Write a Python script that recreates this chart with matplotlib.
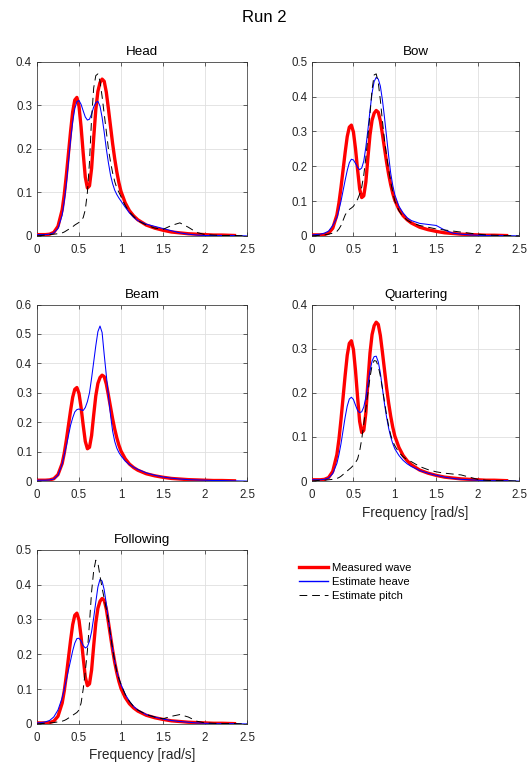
import numpy as np
import matplotlib.pyplot as plt

plt.rcParams['font.family'] = ['Liberation Sans', 'DejaVu Sans']

#----------------------------------
# Datos
#----------------------------------

freq = [0, 0.05, 0.1, 0.15, 0.2, 0.25, 0.3,
        0.325, 0.35, 0.375, 0.4, 0.425, 0.45, 0.475, 0.5, 0.525, 0.55,
        0.575, 0.6, 0.625, 0.65, 0.675, 0.7, 0.725, 0.75, 0.775, 0.8,
        0.825, 0.85, 0.875, 0.9, 0.925, 0.95, 0.975, 1.0,
        1.05, 1.1, 1.15, 1.2, 1.3, 1.4, 1.5, 1.6, 1.7, 1.8, 1.9, 2.0,
        2.1, 2.2, 2.35, 2.5]

# ola medida (igual en todos los rumbos)
measured = [0.003, 0.003, 0.003, 0.004, 0.008, 0.022, 0.06,
            0.095, 0.14, 0.19, 0.24, 0.285, 0.312, 0.318, 0.298, 0.25, 0.19,
            0.135, 0.11, 0.115, 0.155, 0.225, 0.29, 0.332, 0.352, 0.36, 0.355,
            0.33, 0.292, 0.252, 0.212, 0.177, 0.147, 0.122, 0.102,
            0.076, 0.058, 0.046, 0.037, 0.025, 0.018, 0.013, 0.009, 0.007, 0.005, 0.004, 0.003,
            0.002, 0.002, 0.001, np.nan]

head_heave = [0.003, 0.003, 0.003, 0.004, 0.007, 0.017, 0.048,
              0.08, 0.12, 0.17, 0.22, 0.262, 0.292, 0.308, 0.311, 0.302, 0.287,
              0.273, 0.266, 0.268, 0.28, 0.296, 0.306, 0.309, 0.298, 0.272, 0.238,
              0.2, 0.168, 0.14, 0.12, 0.105, 0.095, 0.087, 0.08,
              0.066, 0.053, 0.043, 0.035, 0.027, 0.022, 0.017, 0.012, 0.007, 0.004, 0.002, 0.001,
              0.001, 0.001, 0.001, 0.0]

head_pitch = [0.0, 0.001, 0.002, 0.003, 0.004, 0.005, 0.007,
              0.009, 0.012, 0.015, 0.018, 0.021, 0.025, 0.028, 0.031, 0.035, 0.042,
              0.06, 0.1, 0.17, 0.27, 0.34, 0.368, 0.372, 0.355, 0.32, 0.28,
              0.24, 0.2, 0.17, 0.145, 0.125, 0.11, 0.1, 0.09,
              0.07, 0.055, 0.045, 0.035, 0.025, 0.018, 0.015, 0.024, 0.03, 0.02, 0.008, 0.003,
              0.002, 0.001, 0.001, 0.0]

bow_heave = [0.003, 0.004, 0.005, 0.008, 0.014, 0.03, 0.052,
             0.075, 0.1, 0.13, 0.16, 0.188, 0.21, 0.22, 0.218, 0.208, 0.197,
             0.19, 0.195, 0.215, 0.255, 0.305, 0.36, 0.41, 0.443, 0.455, 0.45,
             0.43, 0.39, 0.34, 0.285, 0.23, 0.18, 0.145, 0.118,
             0.085, 0.066, 0.052, 0.044, 0.036, 0.033, 0.03, 0.017, 0.008, 0.005, 0.003, 0.002,
             0.001, 0.001, 0.001, 0.0]

bow_pitch = [0.0, 0.001, 0.002, 0.003, 0.005, 0.008, 0.013,
             0.02, 0.03, 0.045, 0.06, 0.07, 0.076, 0.08, 0.085, 0.095, 0.105,
             0.12, 0.14, 0.175, 0.225, 0.285, 0.35, 0.42, 0.462, 0.465, 0.44,
             0.39, 0.33, 0.275, 0.23, 0.19, 0.155, 0.125, 0.1,
             0.072, 0.055, 0.045, 0.038, 0.03, 0.025, 0.02, 0.017, 0.014, 0.011, 0.008, 0.005,
             0.003, 0.002, 0.001, 0.0]

beam_heave = [0.003, 0.003, 0.003, 0.004, 0.007, 0.02, 0.058,
              0.09, 0.12, 0.155, 0.19, 0.215, 0.235, 0.243, 0.245, 0.242, 0.24,
              0.25, 0.27, 0.3, 0.35, 0.405, 0.46, 0.508, 0.527, 0.505, 0.43,
              0.36, 0.29, 0.225, 0.17, 0.135, 0.112, 0.097, 0.086,
              0.068, 0.056, 0.047, 0.04, 0.028, 0.02, 0.014, 0.01, 0.007, 0.005, 0.004, 0.003,
              0.002, 0.002, 0.001, 0.0]

beam_pitch = [0.001, 0.001, 0.001, 0.001, 0.001, 0.001, 0.001,
              0.001, 0.001, 0.001, 0.001, 0.001, 0.001, 0.001, 0.001, 0.001, 0.001,
              0.001, 0.001, 0.001, 0.001, 0.001, 0.001, 0.001, 0.001, 0.001, 0.001,
              0.001, 0.001, 0.001, 0.001, 0.001, 0.001, 0.001, 0.001,
              0.001, 0.001, 0.001, 0.001, 0.001, 0.001, 0.001, 0.001, 0.001, 0.001, 0.001, 0.001,
              0.001, 0.001, 0.001, 0.001]

quart_heave = [0.003, 0.003, 0.003, 0.004, 0.007, 0.017, 0.04,
               0.06, 0.085, 0.115, 0.145, 0.17, 0.186, 0.19, 0.185, 0.172, 0.16,
               0.155, 0.157, 0.168, 0.19, 0.22, 0.25, 0.272, 0.282, 0.283, 0.27,
               0.245, 0.21, 0.175, 0.145, 0.12, 0.1, 0.085, 0.073,
               0.058, 0.047, 0.039, 0.033, 0.024, 0.018, 0.013, 0.009, 0.006, 0.004, 0.003, 0.002,
               0.001, 0.001, 0.001, 0.0]

quart_pitch = [0.0, 0.001, 0.002, 0.002, 0.003, 0.004, 0.006,
               0.008, 0.011, 0.015, 0.019, 0.023, 0.027, 0.031, 0.036, 0.042, 0.05,
               0.068, 0.095, 0.13, 0.165, 0.2, 0.235, 0.262, 0.273, 0.272, 0.26,
               0.238, 0.21, 0.18, 0.15, 0.125, 0.105, 0.09, 0.08,
               0.065, 0.055, 0.048, 0.044, 0.033, 0.026, 0.021, 0.018, 0.016, 0.014, 0.009, 0.004,
               0.002, 0.001, 0.001, 0.0]

foll_heave = [0.003, 0.004, 0.006, 0.01, 0.02, 0.04, 0.075,
              0.1, 0.127, 0.155, 0.182, 0.21, 0.232, 0.245, 0.246, 0.238, 0.225,
              0.218, 0.222, 0.238, 0.265, 0.305, 0.35, 0.393, 0.415, 0.41, 0.385,
              0.345, 0.3, 0.255, 0.215, 0.18, 0.15, 0.13, 0.113,
              0.085, 0.065, 0.05, 0.04, 0.027, 0.02, 0.014, 0.01, 0.007, 0.005, 0.003, 0.002,
              0.001, 0.001, 0.001, 0.0]

foll_pitch = [0.0, 0.001, 0.002, 0.003, 0.004, 0.006, 0.008,
              0.01, 0.013, 0.017, 0.021, 0.025, 0.029, 0.033, 0.04, 0.06, 0.1,
              0.15, 0.21, 0.29, 0.38, 0.44, 0.47, 0.462, 0.425, 0.39, 0.36,
              0.33, 0.295, 0.255, 0.215, 0.18, 0.15, 0.13, 0.113,
              0.085, 0.065, 0.05, 0.04, 0.027, 0.02, 0.015, 0.022, 0.027, 0.02, 0.008, 0.003,
              0.002, 0.001, 0.001, 0.0]

headings = ["Head", "Bow", "Beam", "Quartering", "Following"]
heave = [head_heave, bow_heave, beam_heave, quart_heave, foll_heave]
pitch = [head_pitch, bow_pitch, beam_pitch, quart_pitch, foll_pitch]
ymax = [0.4, 0.5, 0.6, 0.4, 0.5]

#----------------------------------
# Figura
#----------------------------------

fig = plt.figure(figsize=(5.28, 7.71), dpi=100)

# [left, bottom, width, height]
pos = [
    [0.070, 0.694, 0.398, 0.226],
    [0.591, 0.694, 0.392, 0.226],
    [0.070, 0.376, 0.398, 0.229],
    [0.591, 0.376, 0.392, 0.229],
    [0.070, 0.061, 0.398, 0.226],
]

fc = '#262626'

for i in range(5):
    ax = fig.add_axes(pos[i])
    l1, = ax.plot(freq, measured, color='red', lw=2.4, label='Measured wave', zorder=3)
    l2, = ax.plot(freq, heave[i], color='blue', lw=0.75, label='Estimate heave', zorder=4)
    l3, = ax.plot(freq, pitch[i], color='black', lw=0.7, ls=(0, (8, 5)),
                  label='Estimate pitch', zorder=5)
    ax.set_xlim(0, 2.5)
    ax.set_ylim(0, ymax[i])
    ax.set_xticks([0, 0.5, 1, 1.5, 2, 2.5])
    ax.set_xticklabels(['0', '0.5', '1', '1.5', '2', '2.5'])
    ax.set_yticks(np.arange(0, ymax[i] + 0.01, 0.1))
    ax.set_yticklabels(['0'] + ['%.1f' % v for v in np.arange(0.1, ymax[i] + 0.01, 0.1)])
    ax.grid(True, color='#dfdfdf', lw=0.6)
    ax.set_axisbelow(True)
    ax.tick_params(direction='in', length=3, width=0.5, top=True, right=True,
                   labelsize=8.3, colors=fc)
    ax.tick_params(axis='x', pad=6)
    ax.tick_params(axis='y', pad=3.5)
    for s in ax.spines.values():
        s.set_color(fc)
        s.set_linewidth(0.5)
    ax.set_title(headings[i], fontsize=9.6, color='black', pad=5)
    if i >= 3:
        ax.set_xlabel('Frequency [rad/s]', fontsize=9.8, color=fc, labelpad=3)

leg = fig.legend(handles=[l1, l2, l3], loc='upper left', bbox_to_anchor=(0.548, 0.283),
                 frameon=False, fontsize=8.1, handlelength=2.5, handletextpad=0.4,
                 labelspacing=0.35)
leg.get_lines()[1].set_linewidth(1.0)

fig.suptitle('Run 2', fontsize=12, y=0.987)

plt.savefig('out.png', dpi=100)
